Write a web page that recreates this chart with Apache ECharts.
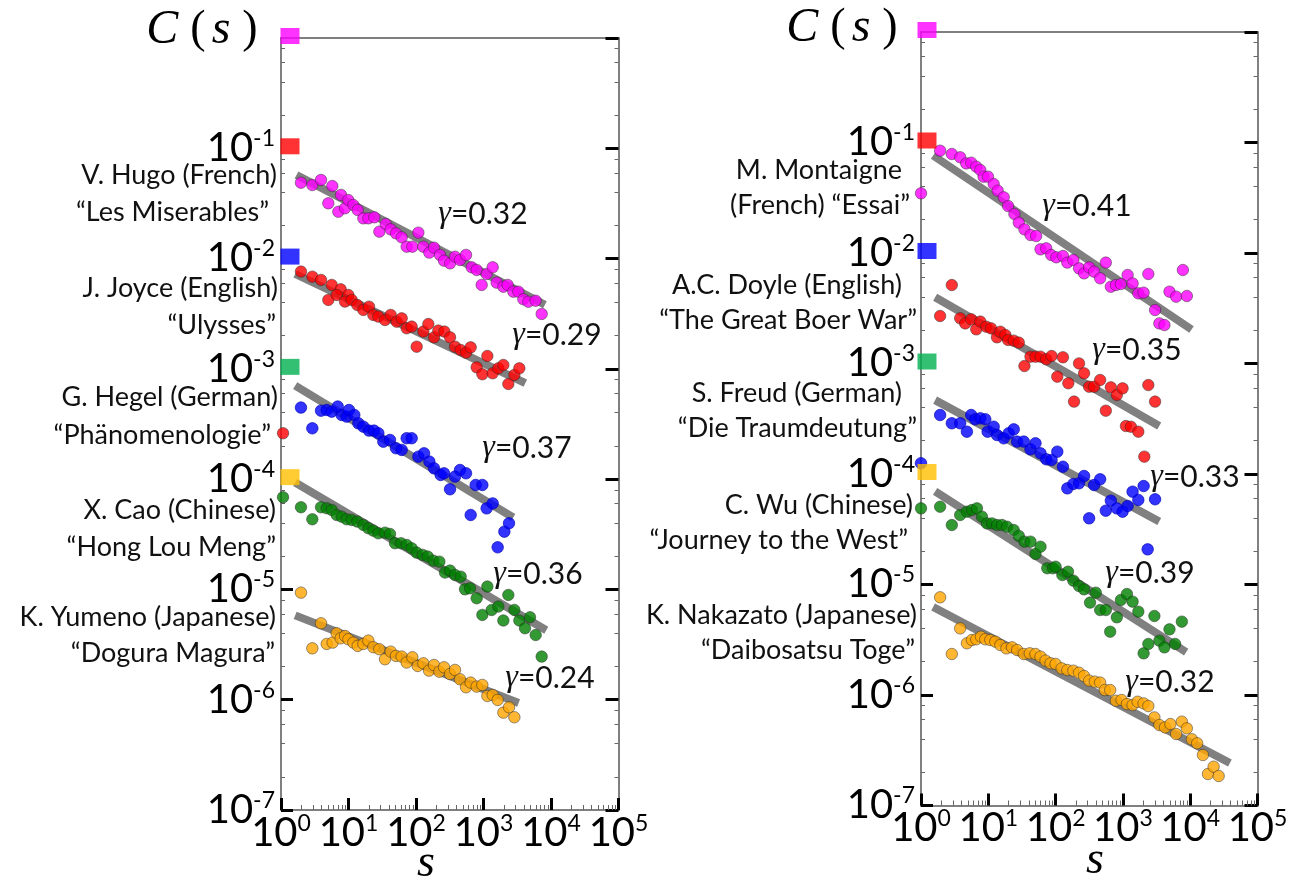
<!DOCTYPE html>
<html>
<head>
<meta charset="utf-8">
<script src="https://cdn.jsdelivr.net/npm/echarts@6/dist/echarts.min.js"></script>
<style>
  html, body { margin: 0; padding: 0; background: #fff; }
  #chart { width: 1304px; height: 884px; }
</style>
</head>
<body>
<div id="chart"></div>
<script>
// Correlation function C(s) of word sequences, log-log, each text shifted by one decade.
// Points are stored as [log10 s, log10 C(s)].

// ---- left panel ----
const hugo = [[0.296,-1.312],[0.464,-1.333],[0.593,-1.287],[0.701,-1.499],[0.760,-1.342],[0.849,-1.575],[0.889,-1.423],[0.948,-1.544],[0.997,-1.469],[1.072,-1.514],[1.136,-1.559],[1.220,-1.635],[1.294,-1.635],[1.383,-1.626],[1.457,-1.756],[1.551,-1.686],[1.625,-1.735],[1.704,-1.771],[1.788,-1.807],[1.862,-1.892],[1.946,-1.892],[2.035,-1.765],[2.108,-1.892],[2.197,-1.946],[2.267,-1.901],[2.356,-1.967],[2.415,-2.019],[2.504,-2.043],[2.578,-1.983],[2.652,-2.013],[2.741,-1.967],[2.825,-2.079],[2.899,-2.103],[2.973,-2.239],[3.047,-2.140],[3.136,-2.079],[3.195,-2.218],[3.294,-2.255],[3.358,-2.239],[3.442,-2.300],[3.516,-2.300],[3.590,-2.369],[3.664,-2.391],[3.773,-2.382],[3.862,-2.502]];
const joyce = [[0.03,-3.584],[0.296,-2.118],[0.464,-2.164],[0.593,-2.194],[0.751,-2.239],[0.884,-2.279],[0.701,-2.375],[0.825,-2.330],[0.998,-2.330],[0.948,-2.390],[1.047,-2.375],[1.131,-2.421],[1.220,-2.466],[1.304,-2.436],[1.368,-2.511],[1.442,-2.526],[1.541,-2.557],[1.625,-2.511],[1.714,-2.572],[1.788,-2.542],[1.862,-2.632],[1.936,-2.617],[2.010,-2.799],[2.109,-2.662],[2.183,-2.593],[2.267,-2.714],[2.331,-2.653],[2.420,-2.662],[2.504,-2.714],[2.578,-2.799],[2.662,-2.829],[2.741,-2.853],[2.810,-2.805],[2.899,-2.986],[2.983,-3.049],[3.057,-2.883],[3.136,-3.040],[3.220,-2.995],[3.294,-2.965],[3.368,-3.137],[3.457,-3.055],[3.531,-2.995]];
const hegel = [[0.296,-3.351],[0.464,-3.539],[0.593,-3.379],[0.677,-3.373],[0.751,-3.388],[0.840,-3.342],[0.899,-3.418],[0.973,-3.433],[1.007,-3.373],[1.086,-3.418],[1.146,-3.494],[1.220,-3.524],[1.304,-3.560],[1.378,-3.560],[1.442,-3.584],[1.516,-3.660],[1.615,-3.645],[1.704,-3.720],[1.788,-3.735],[1.862,-3.629],[1.936,-3.629],[2.035,-3.796],[2.119,-3.766],[2.198,-3.841],[2.267,-3.902],[2.365,-3.962],[2.415,-3.947],[2.504,-4.092],[2.578,-3.977],[2.652,-3.917],[2.741,-3.947],[2.810,-4.325],[2.884,-4.053],[2.983,-4.053],[3.047,-4.265],[3.136,-4.220],[3.210,-4.618],[3.309,-4.476],[3.378,-4.400]];
const cao = [[0.03,-4.164],[0.296,-4.255],[0.464,-4.364],[0.593,-4.255],[0.677,-4.264],[0.751,-4.279],[0.825,-4.325],[0.899,-4.340],[0.973,-4.364],[1.047,-4.370],[1.131,-4.385],[1.220,-4.415],[1.294,-4.445],[1.368,-4.467],[1.442,-4.491],[1.541,-4.485],[1.615,-4.497],[1.689,-4.581],[1.778,-4.581],[1.862,-4.597],[1.936,-4.627],[2.010,-4.666],[2.099,-4.687],[2.173,-4.702],[2.257,-4.739],[2.346,-4.748],[2.430,-4.847],[2.504,-4.829],[2.578,-4.869],[2.662,-4.884],[2.726,-4.999],[2.800,-4.990],[2.899,-5.080],[2.983,-5.231],[3.057,-4.974],[3.121,-5.186],[3.220,-5.155],[3.294,-5.282],[3.368,-5.050],[3.457,-5.186],[3.531,-5.282],[3.615,-5.352],[3.689,-5.252],[3.773,-5.413],[3.862,-5.609]];
const yumeno = [[0.296,-5.029],[0.464,-5.534],[0.593,-5.307],[0.677,-5.494],[0.765,-5.482],[0.825,-5.397],[0.884,-5.443],[0.948,-5.422],[0.998,-5.452],[1.072,-5.482],[1.136,-5.512],[1.220,-5.494],[1.294,-5.464],[1.368,-5.524],[1.457,-5.542],[1.541,-5.633],[1.625,-5.564],[1.704,-5.603],[1.788,-5.609],[1.862,-5.663],[1.946,-5.615],[2.025,-5.694],[2.109,-5.670],[2.193,-5.736],[2.267,-5.685],[2.346,-5.746],[2.415,-5.706],[2.504,-5.767],[2.578,-5.730],[2.652,-5.815],[2.741,-5.887],[2.810,-5.845],[2.899,-5.881],[2.983,-5.866],[3.057,-5.966],[3.136,-5.957],[3.210,-6.002],[3.294,-6.117],[3.378,-6.069],[3.457,-6.159]];

const leftAuthors = ['V. Hugo (French)', 'J. Joyce (English)', 'G. Hegel (German)', 'X. Cao (Chinese)', 'K. Yumeno (Japanese)'];
const leftWorks = ['\u201cLes Miserables\u201d', '\u201cUlysses\u201d', '\u201cPh\u00e4nomenologie\u201d', '\u201cHong Lou Meng\u201d', '\u201cDogura Magura\u201d'];
const leftGamma = [0.32, 0.29, 0.37, 0.36, 0.24];
const leftIntercept = [-1.168, -2.079, -3.075, -3.955, -5.185];
const leftFitFrom = [0.23, 0.21, 0.21, 0.21, 0.21];
const leftFitTo = [3.91, 3.62, 3.44, 3.93, 3.52];

// ---- right panel ----
const montaigne = [[0,-1.460],[0.284,-1.074],[0.458,-1.104],[0.582,-1.134],[0.672,-1.189],[0.746,-1.183],[0.821,-1.219],[0.881,-1.249],[0.930,-1.309],[0.995,-1.309],[1.080,-1.376],[1.139,-1.436],[1.229,-1.496],[1.294,-1.575],[1.388,-1.647],[1.453,-1.725],[1.537,-1.786],[1.627,-1.837],[1.711,-1.846],[1.776,-1.967],[1.861,-1.958],[1.935,-2.018],[2.010,-2.039],[2.109,-2.027],[2.174,-2.087],[2.264,-2.063],[2.348,-2.139],[2.423,-2.184],[2.498,-2.130],[2.572,-2.169],[2.662,-2.229],[2.746,-2.087],[2.821,-2.305],[2.896,-2.290],[2.970,-2.281],[3.070,-2.199],[3.144,-2.275],[3.229,-2.365],[3.308,-2.359],[3.378,-2.190],[3.478,-2.516],[3.542,-2.637],[3.617,-2.652],[3.692,-2.350],[3.791,-2.395],[3.891,-2.154],[3.950,-2.389]];
const doyle = [[0.284,-2.570],[0.458,-2.290],[0.582,-2.591],[0.657,-2.637],[0.746,-2.600],[0.821,-2.691],[0.881,-2.621],[0.970,-2.667],[1.040,-2.682],[1.129,-2.763],[1.179,-2.712],[1.254,-2.742],[1.294,-2.787],[1.378,-2.793],[1.453,-2.811],[1.537,-3.023],[1.627,-2.938],[1.701,-2.938],[1.776,-2.938],[1.861,-2.962],[1.940,-2.932],[2.025,-3.119],[2.109,-2.944],[2.189,-3.179],[2.274,-3.345],[2.348,-2.999],[2.423,-3.089],[2.498,-3.210],[2.572,-3.210],[2.662,-3.149],[2.746,-3.427],[2.821,-3.216],[2.910,-3.285],[2.995,-3.225],[3.045,-3.566],[3.119,-3.572],[3.229,-3.617],[3.318,-3.843],[3.378,-3.195],[3.478,-3.345]];
const freud = [[0,-3.903],[0.284,-3.466],[0.458,-3.541],[0.582,-3.541],[0.682,-3.617],[0.746,-3.466],[0.806,-3.505],[0.881,-3.496],[0.955,-3.505],[0.990,-3.617],[1.080,-3.572],[1.129,-3.647],[1.229,-3.677],[1.303,-3.632],[1.378,-3.596],[1.428,-3.707],[1.527,-3.707],[1.627,-3.777],[1.701,-3.722],[1.776,-3.813],[1.861,-3.867],[1.940,-3.873],[2.025,-3.798],[2.109,-3.934],[2.174,-4.130],[2.264,-4.090],[2.348,-4.084],[2.423,-4.018],[2.498,-4.401],[2.572,-4.100],[2.662,-4.048],[2.746,-4.332],[2.821,-4.241],[2.910,-4.311],[2.995,-4.341],[3.070,-4.290],[3.144,-4.160],[3.229,-4.235],[3.308,-4.109],[3.368,-4.682],[3.478,-4.229]];
const wu = [[0,-4.311],[0.284,-4.296],[0.458,-4.462],[0.582,-4.371],[0.682,-4.341],[0.756,-4.326],[0.831,-4.311],[0.905,-4.386],[0.980,-4.447],[1.055,-4.447],[1.129,-4.462],[1.204,-4.462],[1.279,-4.477],[1.378,-4.507],[1.453,-4.560],[1.537,-4.612],[1.627,-4.612],[1.701,-4.724],[1.776,-4.658],[1.876,-4.853],[1.960,-4.853],[2.000,-4.839],[2.100,-4.914],[2.184,-4.884],[2.264,-4.965],[2.348,-5.014],[2.423,-5.044],[2.512,-5.164],[2.597,-5.074],[2.662,-5.231],[2.746,-5.231],[2.811,-5.427],[2.910,-5.297],[2.970,-5.140],[3.060,-5.086],[3.144,-5.155],[3.229,-5.246],[3.308,-5.623],[3.378,-5.538],[3.468,-5.285],[3.542,-5.508],[3.617,-5.569],[3.692,-5.406],[3.776,-5.538],[3.876,-5.336]];
const nakazato = [[0.284,-5.116],[0.458,-5.629],[0.582,-5.397],[0.682,-5.532],[0.756,-5.502],[0.821,-5.496],[0.891,-5.472],[0.955,-5.496],[1.030,-5.502],[1.104,-5.517],[1.179,-5.548],[1.269,-5.578],[1.353,-5.569],[1.428,-5.593],[1.527,-5.629],[1.617,-5.623],[1.701,-5.629],[1.776,-5.653],[1.851,-5.689],[1.925,-5.713],[2.000,-5.719],[2.090,-5.759],[2.174,-5.774],[2.264,-5.780],[2.348,-5.798],[2.423,-5.828],[2.498,-5.870],[2.582,-5.879],[2.662,-5.888],[2.731,-5.955],[2.811,-5.955],[2.896,-6.052],[2.980,-6.045],[3.060,-6.082],[3.144,-6.091],[3.219,-6.061],[3.308,-6.076],[3.378,-6.100],[3.468,-6.203],[3.542,-6.272],[3.627,-6.293],[3.706,-6.263],[3.791,-6.353],[3.876,-6.241],[3.950,-6.302],[4.025,-6.401],[4.104,-6.437],[4.189,-6.543],[4.264,-6.715],[4.348,-6.649],[4.423,-6.733]];

const rightAuthors = ['M. Montaigne', 'A.C. Doyle (English)', 'S. Freud (German)', 'C. Wu (Chinese)', 'K. Nakazato (Japanese)'];
const rightWorks = ['(French) \u201cEssai\u201d', '\u201cThe Great Boer War\u201d', '\u201cDie Traumdeutung\u201d', '\u201cJourney to the West\u201d', '\u201cDaibosatsu Toge\u201d'];
const rightGamma = [0.41, 0.35, 0.33, 0.39, 0.32];
const rightIntercept = [-1.044, -2.327, -3.262, -4.075, -5.146];
const rightFitFrom = [0.18, 0.21, 0.21, 0.21, 0.18];
const rightFitTo = [4.02, 3.54, 3.54, 3.94, 4.59];

// decade shift applied to each text (marked by the coloured squares)
const shiftDecades = [0, -1, -2, -3, -4];

// axis ticks (exponents)
const xDecades = [0, 1, 2, 3, 4, 5];
const yDecades = [-7, -6, -5, -4, -3, -2, -1, 0];

// ---------------- styling & layout ----------------
const dotColors = ['#ff00ff', '#ff0000', '#0000ff', '#008000', '#ffa500'];
const squareColors = ['#ff00ff', '#ff0000', '#0000ff', '#00b050', '#ffc000'];
const SANS = 'Lato, "Open Sans", sans-serif';
const SERIF = '"Liberation Serif", "DejaVu Serif", serif';
const AXIS_GRAY = '#808080';

const panels = [
  {
    grid: { left: 281, top: 38, width: 337.5, height: 772 },
    sets: [hugo, joyce, hegel, cao, yumeno],
    gamma: leftGamma, a: leftIntercept, from: leftFitFrom, to: leftFitTo,
    authors: leftAuthors, works: leftWorks,
    authorPos: [[277, 175], [278, 288], [278, 397], [276, 510], [276, 617]],
    workPos: [[269, 212], [276, 325], [271, 435], [276, 547], [275, 653]],
    gammaPos: [[483, 214], [557, 335], [527, 448], [538, 574], [550, 678]],
    titlePos: [205, 30], sPos: [426, 864], squareDx: 9
  },
  {
    grid: { left: 921, top: 32, width: 336.5, height: 773.5 },
    sets: [montaigne, doyle, freud, wu, nakazato],
    gamma: rightGamma, a: rightIntercept, from: rightFitFrom, to: rightFitTo,
    authors: rightAuthors, works: rightWorks,
    authorPos: [[902, 170], [902, 285], [902, 393], [913, 505], [917, 615]],
    workPos: [[910, 205], [917, 320], [917, 428], [908, 540], [915, 650]],
    gammaPos: [[1087, 206], [1137, 350], [1195, 477], [1150, 573], [1170, 682]],
    titlePos: [845, 28], sPos: [1095, 861], squareDx: 6
  }
];

const minorX = [];
xDecades.slice(0, -1).forEach(n => { for (let k = 2; k <= 9; k++) minorX.push(n + Math.log10(k)); });
const minorY = [];
yDecades.slice(0, -1).forEach(n => { [2, 4, 6, 8].forEach(k => minorY.push(n + Math.log10(k))); });
// left-axis decade ticks that are not covered by a shift marker
const leftMajorTicks = yDecades.filter(d => shiftDecades.indexOf(d) < 0);

const powRich = {
  b: { fontFamily: SANS, fontSize: 40, lineHeight: 42, color: '#000' },
  e: { fontFamily: SANS, fontSize: 23, lineHeight: 24, color: '#000', verticalAlign: 'top' }
};

const option = { animation: false, backgroundColor: '#fff', grid: [], xAxis: [], yAxis: [], series: [], graphic: [] };
const noSplit = { show: false };

panels.forEach((p, pi) => {
  const gMain = pi * 2, gMinor = pi * 2 + 1;
  // the main frame and an identical overlay frame that only carries minor ticks
  option.grid.push(Object.assign({ outerBoundsMode: 'none', containLabel: false }, p.grid));
  option.grid.push(Object.assign({ outerBoundsMode: 'none', containLabel: false }, p.grid));
  const xMin = xDecades[0], xMax = xDecades[xDecades.length - 1];
  const yMin = yDecades[0], yMax = yDecades[yDecades.length - 1];

  const xi = option.xAxis.length, yi = option.yAxis.length;
  // bottom axis with decade labels
  option.xAxis.push({
    type: 'value', gridIndex: gMain, position: 'bottom', min: xMin, max: xMax, interval: 1,
    axisLine: { onZero: false, lineStyle: { color: AXIS_GRAY, width: 2 } },
    axisTick: { inside: true, length: 12, lineStyle: { color: '#000', width: 3 } },
    axisLabel: { margin: 2, showMinLabel: true, showMaxLabel: true,
      formatter: v => '{b|10}{e|' + v + '}', rich: powRich },
    splitLine: noSplit
  });
  // top frame line
  option.xAxis.push({
    type: 'value', gridIndex: gMain, position: 'top', min: xMin, max: xMax, interval: 1,
    axisLine: { onZero: false, lineStyle: { color: '#555', width: 1.5 } },
    axisTick: { show: false }, axisLabel: { show: false }, splitLine: noSplit
  });
  // left axis with decade labels
  option.yAxis.push({
    type: 'value', gridIndex: gMain, position: 'left', min: yMin, max: yMax, interval: 1,
    axisLine: { onZero: false, lineStyle: { color: AXIS_GRAY, width: 2 } },
    axisTick: { inside: true, length: 12, customValues: leftMajorTicks, lineStyle: { color: '#000', width: 3 } },
    axisLabel: { margin: 6, showMinLabel: true,
      formatter: v => v === 0 ? '' : '{b|10}{e|' + v + '}', rich: powRich },
    splitLine: noSplit
  });
  // right frame
  option.yAxis.push({
    type: 'value', gridIndex: gMain, position: 'right', min: yMin, max: yMax, interval: 1,
    axisLine: { onZero: false, lineStyle: { color: AXIS_GRAY, width: 2 } },
    axisTick: { inside: true, length: 13, lineStyle: { color: '#000', width: 3 } },
    axisLabel: { show: false }, splitLine: noSplit
  });

  // minor ticks: 2..9 on s, 2,4,6,8 on C(s)
  option.xAxis.push({
    type: 'value', gridIndex: gMinor, position: 'bottom', min: xMin, max: xMax,
    axisLine: { show: false, onZero: false },
    axisTick: { inside: true, length: 5, customValues: minorX, lineStyle: { color: '#666', width: 1 } },
    axisLabel: { show: false }, splitLine: noSplit
  });
  ['left', 'right'].forEach(pos => {
    option.yAxis.push({
      type: 'value', gridIndex: gMinor, position: pos, min: yMin, max: yMax,
      axisLine: { show: false, onZero: false },
      axisTick: { inside: true, length: 4, customValues: minorY, lineStyle: { color: '#666', width: 1 } },
      axisLabel: { show: false }, splitLine: noSplit
    });
  });

  // power-law fits C(s) ~ s^-gamma
  p.sets.forEach((pts, i) => {
    const g = p.gamma[i], a = p.a[i];
    option.series.push({
      type: 'line', xAxisIndex: xi, yAxisIndex: yi, silent: true, symbol: 'none',
      data: [[p.from[i], a - g * p.from[i]], [p.to[i], a - g * p.to[i]]],
      lineStyle: { color: '#808080', width: 8, cap: 'butt' }, z: 2
    });
  });
  // measured points
  p.sets.forEach((pts, i) => {
    option.series.push({
      type: 'scatter', xAxisIndex: xi, yAxisIndex: yi, silent: true, clip: false,
      data: pts, symbolSize: 11.5,
      itemStyle: { color: dotColors[i], borderColor: i === 2 ? '#0000b0' : 'rgba(40,40,40,0.75)', borderWidth: 0.8 },
      z: 3
    });
  });
  // decade-shift markers on the C(s) axis
  option.series.push({
    type: 'scatter', xAxisIndex: xi, yAxisIndex: yi, silent: true, clip: false,
    symbol: 'rect', symbolSize: [19, 16], symbolOffset: [p.squareDx, -2],
    data: shiftDecades.map((d, i) => ({ value: [xMin, d], itemStyle: { color: squareColors[i] } })),
    z: 30
  });

  // text labels
  p.authors.forEach((t, i) => {
    option.graphic.push({ type: 'text', x: p.authorPos[i][0], y: p.authorPos[i][1], silent: true,
      style: { text: t, font: '27px ' + SANS, fill: '#111', align: 'right', verticalAlign: 'middle' } });
    option.graphic.push({ type: 'text', x: p.workPos[i][0], y: p.workPos[i][1], silent: true,
      style: { text: p.works[i], font: '27px ' + SANS, fill: '#111', align: 'right', verticalAlign: 'middle' } });
    option.graphic.push({ type: 'text', x: p.gammaPos[i][0], y: p.gammaPos[i][1], silent: true,
      style: { text: '{g|\u03b3}{t|=' + p.gamma[i].toFixed(2) + '}', align: 'center', verticalAlign: 'middle',
        rich: { g: { font: 'italic 32px ' + SERIF, fill: '#111' }, t: { font: '30px ' + SANS, fill: '#111' } } } });
  });
  option.graphic.push({ type: 'text', x: p.titlePos[0], y: p.titlePos[1], silent: true,
    style: { text: '{i|C}{n|(}{i|s}{n|)}', align: 'center', verticalAlign: 'middle',
      rich: { i: { font: 'italic 48px ' + SERIF, fill: '#000' }, n: { font: '46px ' + SERIF, fill: '#000', padding: [0, 6, 0, 12] } } } });
  option.graphic.push({ type: 'text', x: p.sPos[0], y: p.sPos[1], silent: true,
    style: { text: 's', font: 'italic 46px ' + SERIF, fill: '#000', align: 'center', verticalAlign: 'middle' } });
});

const chart = echarts.init(document.getElementById('chart'), null, { renderer: 'canvas' });
chart.setOption(option);
</script>
</body>
</html>
